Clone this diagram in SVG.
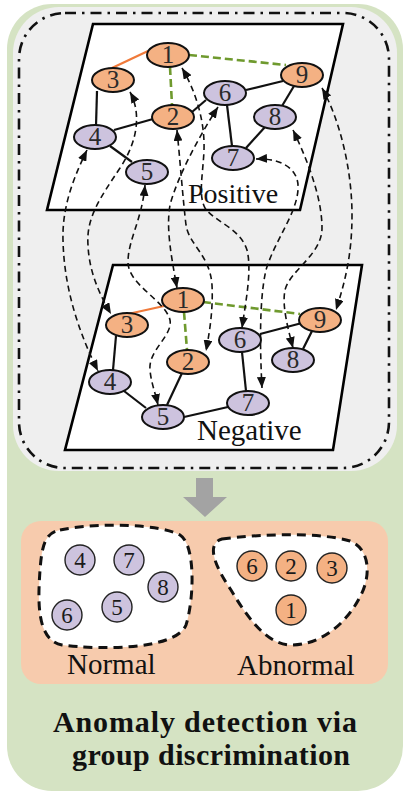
<svg xmlns="http://www.w3.org/2000/svg" width="410" height="798" viewBox="0 0 410 798">
  <style>
    .plane { fill: #ffffff; stroke: #000; stroke-width: 2.6; stroke-linejoin: miter; }
    .edge { stroke: #111; stroke-width: 2.2; fill: none; }
    .edge-o { stroke: #f07a3a; stroke-width: 2.2; fill: none; }
    .edge-g { stroke: #6f9a2e; stroke-width: 2.6; fill: none; stroke-dasharray: 8 4; }
    .n-o ellipse, .n-o circle { fill: #f4b183; stroke: #111; stroke-width: 2; }
    .n-p ellipse, .n-p circle { fill: #cdc3de; stroke: #111; stroke-width: 2; }
    .s-o circle { fill: #f4b183; stroke: #222; stroke-width: 1.4; }
    .s-p circle { fill: #cdc3de; stroke: #222; stroke-width: 1.4; }
    .num { font-family: "Liberation Serif", "Times New Roman", serif; font-size: 25px; fill: #2a2a2a; text-anchor: middle; }
    .snum { font-family: "Liberation Serif", "Times New Roman", serif; font-size: 23px; fill: #1a1a1a; text-anchor: middle; }
    .lbl { font-family: "Liberation Serif", "Times New Roman", serif; font-size: 29px; fill: #111; }
    .title { font-family: "Liberation Serif", "Times New Roman", serif; font-size: 30px; font-weight: bold; fill: #111; text-anchor: middle; }
    .link { fill: none; stroke: #111; stroke-width: 1.6; stroke-dasharray: 6 4; marker-start: url(#tip); marker-end: url(#tip); }
    .blob { fill: #ffffff; stroke: #111; stroke-width: 3; stroke-dasharray: 9 6; }
  </style>
  <defs>
    <marker id="tip" markerUnits="userSpaceOnUse" markerWidth="11" markerHeight="9" refX="11" refY="4.5" orient="auto-start-reverse">
      <path d="M0,0 L11,4.5 L0,9 z" fill="#111"/>
    </marker>
  </defs>

  <!-- outer green panel -->
  <rect x="7" y="4" width="396" height="787" rx="45" fill="#d5e3c3"/>
  <!-- grey graph area with dash-dot border -->
  <rect x="13" y="7" width="384" height="464" rx="46" fill="#efefef"/>
  <rect x="19" y="13" width="370" height="455" rx="46" fill="none" stroke="#111" stroke-width="2.6" stroke-dasharray="11 6 2.5 6"/>

  <!-- planes -->
  <polygon class="plane" points="93,24 343,24 300,210 47,210"/>
  <polygon class="plane" points="113,265 362,265 333,450 65,450"/>

  <!-- positive graph edges -->
  <g id="edges-positive">
    <line class="edge-o" x1="148" y1="51" x2="112" y2="68"/>
    <line class="edge-g" x1="189" y1="55" x2="286" y2="65"/>
    <line class="edge-g" x1="170" y1="67" x2="172" y2="105"/>
    <line class="edge" x1="97" y1="91" x2="96" y2="126"/>
    <line class="edge" x1="114" y1="130" x2="153" y2="119"/>
    <line class="edge" x1="192" y1="112" x2="206" y2="100"/>
    <line class="edge" x1="246" y1="90" x2="283" y2="81"/>
    <line class="edge" x1="227" y1="105" x2="232" y2="146"/>
    <line class="edge" x1="246" y1="148" x2="265" y2="127"/>
    <line class="edge" x1="282" y1="106" x2="294" y2="86"/>
    <line class="edge" x1="110" y1="146" x2="132" y2="162"/>
  </g>

  <!-- negative graph edges -->
  <g id="edges-negative">
    <line class="edge-o" x1="164" y1="306" x2="128" y2="314"/>
    <line class="edge-g" x1="203" y1="302" x2="300" y2="314"/>
    <line class="edge-g" x1="184" y1="312" x2="187" y2="350"/>
    <line class="edge" x1="116" y1="336" x2="113" y2="370"/>
    <line class="edge" x1="124" y1="391" x2="146" y2="408"/>
    <line class="edge" x1="182" y1="373" x2="167" y2="405"/>
    <line class="edge" x1="184" y1="417" x2="228" y2="407"/>
    <line class="edge" x1="246" y1="391" x2="242" y2="352"/>
    <line class="edge" x1="260" y1="334" x2="302" y2="323"/>
    <line class="edge" x1="312" y1="331" x2="303" y2="349"/>
  </g>

  <!-- correspondence links between the two views -->
  <g id="links">
    <path class="link" d="M87,150 C75,175 62,205 63,240 C64,290 80,335 98,371"/>
    <path class="link" d="M130,92 C140,110 140,138 120,168 C100,198 86,218 88,245 C89,270 98,292 111,314"/>
    <path class="link" d="M145,185 C142,220 128,240 128,262 C128,285 165,300 170,320 C173,336 148,350 150,370 C151,382 155,392 158,405"/>
    <path class="link" d="M218,107 C200,135 178,175 170,205 C166,228 171,255 177,288"/>
    <path class="link" d="M177,130 C180,160 183,200 186,225 C189,245 210,255 212,285 C213,305 211,325 206,351"/>
    <path class="link" d="M182,68 C195,90 205,120 204,150 C203,175 198,195 205,208 C215,222 240,228 247,250 C252,270 246,300 242,328"/>
    <path class="link" d="M322,88 C340,120 352,170 352,215 C352,255 345,282 336,310"/>
    <path class="link" d="M293,130 C305,155 322,195 322,228 C322,255 290,270 285,290 C282,305 287,325 293,348"/>
    <path class="link" d="M256,159 C275,158 300,165 298,190 C296,215 275,240 266,270 C259,300 260,350 262,388"/>
  </g>

  <!-- positive graph nodes -->
  <g id="p1" class="n-o"><ellipse cx="168" cy="55" rx="21" ry="12"/><text class="num" x="168" y="63">1</text></g>
  <g id="p3" class="n-o"><ellipse cx="113" cy="80" rx="21" ry="12"/><text class="num" x="113" y="88">3</text></g>
  <g id="p9" class="n-o"><ellipse cx="302" cy="75" rx="21" ry="12"/><text class="num" x="302" y="83">9</text></g>
  <g id="p6" class="n-p"><ellipse cx="225" cy="93" rx="21" ry="12"/><text class="num" x="225" y="101">6</text></g>
  <g id="p2" class="n-o"><ellipse cx="173" cy="117" rx="21" ry="12"/><text class="num" x="173" y="125">2</text></g>
  <g id="p8" class="n-p"><ellipse cx="275" cy="117" rx="21" ry="12"/><text class="num" x="275" y="125">8</text></g>
  <g id="p4" class="n-p"><ellipse cx="95" cy="137" rx="21" ry="12"/><text class="num" x="95" y="145">4</text></g>
  <g id="p7" class="n-p"><ellipse cx="233" cy="158" rx="21" ry="12"/><text class="num" x="233" y="166">7</text></g>
  <g id="p5" class="n-p"><ellipse cx="147" cy="172" rx="21" ry="12"/><text class="num" x="147" y="180">5</text></g>
  <text class="lbl" x="188" y="203" style="font-size:28px">Positive</text>

  <!-- negative graph nodes -->
  <g id="n1" class="n-o"><ellipse cx="183" cy="300" rx="21" ry="12"/><text class="num" x="183" y="308">1</text></g>
  <g id="n3" class="n-o"><ellipse cx="127" cy="325" rx="21" ry="12"/><text class="num" x="127" y="333">3</text></g>
  <g id="n9" class="n-o"><ellipse cx="320" cy="320" rx="21" ry="12"/><text class="num" x="320" y="328">9</text></g>
  <g id="n6" class="n-p"><ellipse cx="240" cy="340" rx="21" ry="12"/><text class="num" x="240" y="348">6</text></g>
  <g id="n2" class="n-o"><ellipse cx="188" cy="362" rx="21" ry="12"/><text class="num" x="188" y="370">2</text></g>
  <g id="n8" class="n-p"><ellipse cx="293" cy="360" rx="21" ry="12"/><text class="num" x="293" y="368">8</text></g>
  <g id="n4" class="n-p"><ellipse cx="110" cy="382" rx="21" ry="12"/><text class="num" x="110" y="390">4</text></g>
  <g id="n7" class="n-p"><ellipse cx="248" cy="403" rx="21" ry="12"/><text class="num" x="248" y="411">7</text></g>
  <g id="n5" class="n-p"><ellipse cx="163" cy="417" rx="21" ry="12"/><text class="num" x="163" y="425">5</text></g>
  <text class="lbl" x="197" y="440">Negative</text>

  <!-- downward arrow -->
  <polygon id="down-arrow" points="196,478 213,478 213,497 227,497 205,517 183,497 196,497" fill="#a3a3a3"/>

  <!-- result panel -->
  <rect x="21" y="521" width="367" height="163" rx="20" fill="#f7cbad"/>

  <g id="normal-group">
    <path class="blob" d="M60,530 C100,522 160,524 180,535 C196,545 194,600 186,625 C176,650 100,650 62,645 C36,640 38,600 40,570 C42,545 45,533 60,530 Z"/>
    <g class="s-p"><circle cx="80" cy="560" r="15"/><text class="snum" x="80" y="568">4</text></g>
    <g class="s-p"><circle cx="129" cy="560" r="15"/><text class="snum" x="129" y="568">7</text></g>
    <g class="s-p"><circle cx="163" cy="587" r="15"/><text class="snum" x="163" y="595">8</text></g>
    <g class="s-p"><circle cx="67" cy="615" r="15"/><text class="snum" x="67" y="623">6</text></g>
    <g class="s-p"><circle cx="117" cy="607" r="15"/><text class="snum" x="117" y="615">5</text></g>
    <text class="lbl" x="67" y="674">Normal</text>
  </g>

  <g id="abnormal-group">
    <path class="blob" d="M222,539 C260,534 320,532 350,541 C370,549 371,575 361,595 C346,625 320,645 291,645 C266,645 246,615 231,590 C216,568 205,544 222,539 Z"/>
    <g class="s-o"><circle cx="252" cy="566" r="15"/><text class="snum" x="252" y="574">6</text></g>
    <g class="s-o"><circle cx="291" cy="566" r="15"/><text class="snum" x="291" y="574">2</text></g>
    <g class="s-o"><circle cx="332" cy="568" r="15"/><text class="snum" x="332" y="576">3</text></g>
    <g class="s-o"><circle cx="291" cy="610" r="15"/><text class="snum" x="291" y="618">1</text></g>
    <text class="lbl" x="237" y="675">Abnormal</text>
  </g>

  <text class="title" x="205" y="732" textLength="304" lengthAdjust="spacing">Anomaly detection via</text>
  <text class="title" x="211" y="765" textLength="278" lengthAdjust="spacing">group discrimination</text>
</svg>
